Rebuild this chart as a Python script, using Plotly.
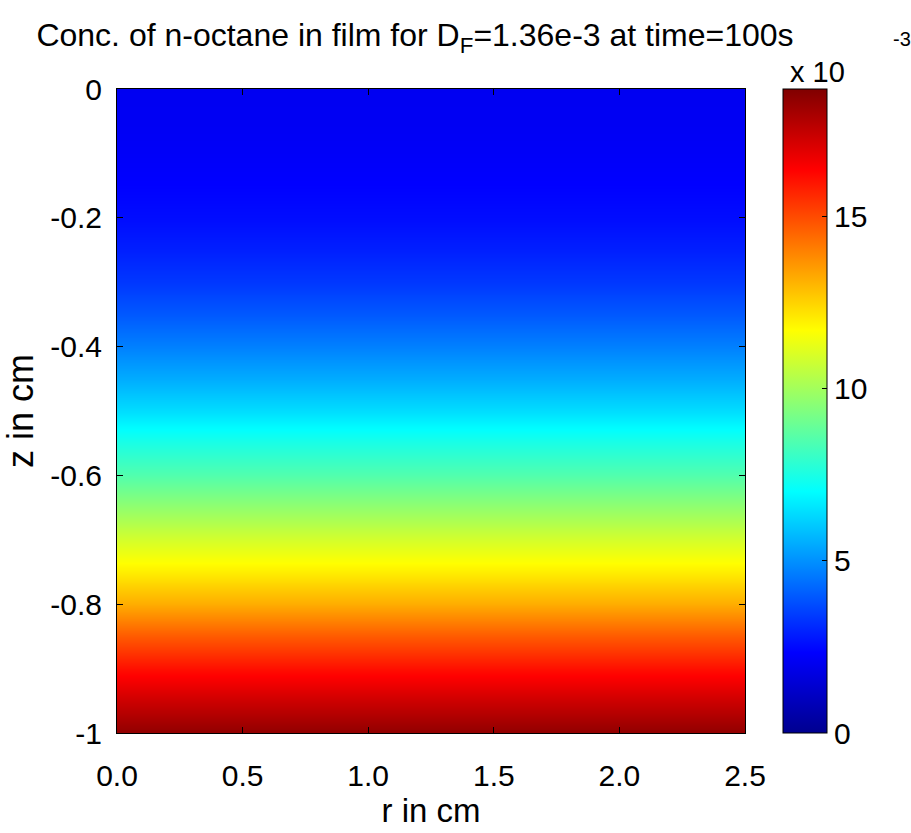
import plotly.graph_objects as go

# --- data ---
r_cm = [0.0, 0.5, 1.0, 1.5, 2.0, 2.5]
z_cm = [0.0, -0.05, -0.1, -0.15, -0.2, -0.25, -0.3, -0.35, -0.4, -0.45, -0.5,
        -0.55, -0.6, -0.65, -0.7, -0.75, -0.8, -0.85, -0.9, -0.95, -1.0]
conc = [0.00205, 0.0021, 0.0022, 0.00235, 0.00255, 0.0029, 0.00335, 0.00395,
        0.0047, 0.0055, 0.0064, 0.0075, 0.0085, 0.0097, 0.0109, 0.0120,
        0.0132, 0.0147, 0.0161, 0.0173, 0.0184]
c_min, c_max = 0.0, 0.0187
x_ticks = [0.0, 0.5, 1.0, 1.5, 2.0, 2.5]
x_ticklabels = ["0.0", "0.5", "1.0", "1.5", "2.0", "2.5"]
y_ticks = [0, -0.2, -0.4, -0.6, -0.8, -1]
y_ticklabels = ["0", "-0.2", "-0.4", "-0.6", "-0.8", "-1"]
cb_ticks = [0.0, 0.005, 0.010, 0.015]
cb_ticklabels = ["0", "5", "10", "15"]

# concentration is uniform in r: repeat profile across columns
grid = [[c for _ in r_cm] for c in conc]

jet = [[0.0, "rgb(0,0,143)"], [0.125, "rgb(0,0,255)"], [0.375, "rgb(0,255,255)"],
       [0.625, "rgb(255,255,0)"], [0.875, "rgb(255,0,0)"], [1.0, "rgb(128,0,0)"]]

FONT = "Liberation Sans, Arial, sans-serif"

L, R, T, B = 117, 166, 89, 100
W, H = 911, 833
pw = W - L - R
ph = H - T - B

fig = go.Figure(go.Heatmap(
    x=r_cm, y=z_cm, z=grid, zmin=c_min, zmax=c_max, colorscale=jet,
    zsmooth="best",
    colorbar=dict(
        x=(783 - L) / pw, xanchor="left", xpad=0, y=0.5, yanchor="middle",
        len=1, lenmode="fraction", thickness=44, thicknessmode="pixels",
        outlinecolor="black", outlinewidth=1, ypad=0,
        tickvals=cb_ticks, ticktext=cb_ticklabels, ticks="inside", ticklen=5,
        tickcolor="black", tickfont=dict(family=FONT, size=30, color="black"),
    ),
))

fig.update_layout(
    width=W, height=H, margin=dict(l=L, r=R, t=T, b=B),
    paper_bgcolor="white", plot_bgcolor="white",
    font=dict(family=FONT, color="black"),
    title=dict(text="Conc. of n-octane in film for D<sub>F</sub>=1.36e-3 at time=100s",
               x=415 / W, xanchor="center", y=1 - 35 / H, yanchor="middle",
               font=dict(family=FONT, size=32, color="black")),
    xaxis=dict(range=[0, 2.5], tickvals=x_ticks, ticktext=x_ticklabels,
               ticks="inside", ticklen=6, tickcolor="black", showline=True,
               linecolor="black", linewidth=1, mirror="ticks", showgrid=False,
               zeroline=False, tickfont=dict(size=30), ticklabelstandoff=16,
               title=dict(text="r in cm", font=dict(size=33), standoff=4)),
    yaxis=dict(range=[-1, 0], tickvals=y_ticks, ticktext=y_ticklabels,
               ticks="inside", ticklen=6, tickcolor="black", showline=True,
               linecolor="black", linewidth=1, mirror="ticks", showgrid=False,
               zeroline=False, tickfont=dict(size=30), ticklabelstandoff=8,
               title=dict(text="z in cm", font=dict(size=36), standoff=8)),
    annotations=[
        dict(text="x 10", xref="paper", yref="paper", x=(788 - L) / pw, y=1 + 17 / ph,
             xanchor="left", yanchor="middle", showarrow=False,
             font=dict(family=FONT, size=29, color="black")),
        dict(text="-3", xref="paper", yref="paper", x=(891 - L) / pw, y=1 + 50 / ph,
             xanchor="left", yanchor="middle", showarrow=False,
             font=dict(family=FONT, size=20, color="black")),
    ],
)

fig.write_html("out.html")
